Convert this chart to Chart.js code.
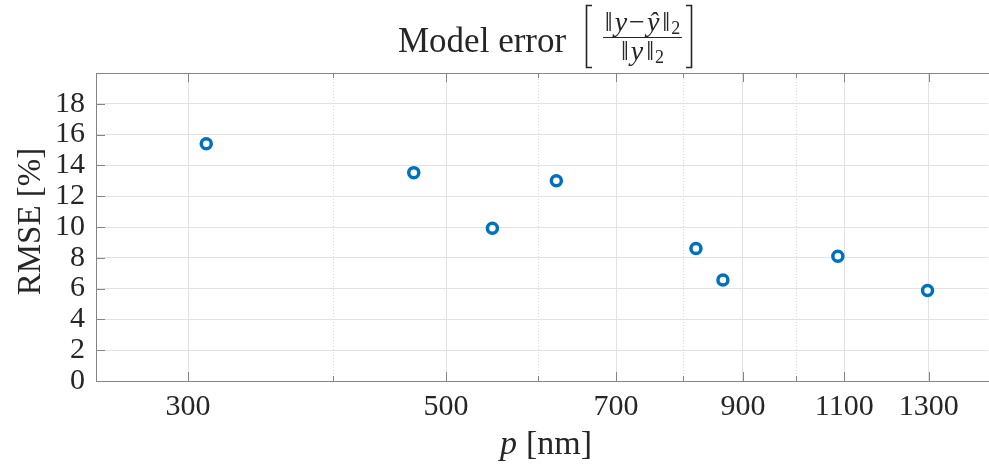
<!DOCTYPE html>
<html><head><meta charset="utf-8">
<script src="https://cdn.jsdelivr.net/npm/chart.js@4.4.1/dist/chart.umd.min.js"></script>
<style>html,body{margin:0;padding:0;background:#fff;overflow:hidden}</style>
</head><body>
<canvas id="c" width="989" height="467"></canvas>
<script>
// ---- data ----
const pValues    = [311, 469, 548, 622, 820, 865, 1086, 1297];
const rmseValues = [15.40, 13.53, 9.92, 13.00, 8.60, 6.56, 8.10, 5.87];
const xMajorTicks = [300, 500, 700, 900, 1100, 1300];
const xMinorTicks = [400, 600, 800, 1000];
const yTicks = [0, 2, 4, 6, 8, 10, 12, 14, 16, 18];
const xRange = [250, 1462];
const yRange = [0, 20];
const titleText = 'Model error';
const yTitle = 'RMSE [%]';
const xTitleVar = 'p';
const xTitleUnit = '[nm]';

const SERIF = '"Liberation Serif", "Times New Roman", serif';
const AXIS = '#858585';
const GRID = '#e2e2e2';
const MINORGRID = '#d8d8d8';
const TEXT = '#262626';
const BLUE = '#0072BD';

function drawSegments(ctx, segs, cx, baseline) {
  let total = 0;
  segs.forEach(s => { ctx.font = s.font; s.w = ctx.measureText(s.t).width; total += s.w + (s.gap || 0); });
  let x = cx - total / 2;
  ctx.textAlign = 'left'; ctx.textBaseline = 'alphabetic';
  segs.forEach(s => { ctx.font = s.font; ctx.fillText(s.t, x, baseline + (s.dy || 0)); x += s.w + (s.gap || 0); });
}

const decor = {
  id: 'decor',
  beforeDatasetsDraw(chart) {
    const {ctx, chartArea: a, scales: {x, y}} = chart;
    ctx.save();
    ctx.strokeStyle = AXIS; ctx.lineWidth = 1;
    ctx.beginPath();
    ctx.moveTo(a.left, a.top + 0.5); ctx.lineTo(a.right + 1, a.top + 0.5);
    xMajorTicks.forEach(v => {
      const px = Math.round(x.getPixelForValue(v)) + 0.5;
      ctx.moveTo(px, a.bottom); ctx.lineTo(px, a.bottom - 9);
      ctx.moveTo(px, a.top); ctx.lineTo(px, a.top + 9);
    });
    xMinorTicks.forEach(v => {
      const px = Math.round(x.getPixelForValue(v)) + 0.5;
      ctx.moveTo(px, a.bottom); ctx.lineTo(px, a.bottom - 5);
      ctx.moveTo(px, a.top); ctx.lineTo(px, a.top + 5);
    });
    yTicks.forEach(v => {
      const py = Math.round(y.getPixelForValue(v)) + 0.5;
      ctx.moveTo(a.left, py); ctx.lineTo(a.left + 9, py);
    });
    ctx.stroke();
    ctx.restore();
  },
  afterDraw(chart) {
    const {ctx} = chart;
    ctx.save();
    ctx.fillStyle = TEXT; ctx.strokeStyle = TEXT;
    // title
    ctx.font = '35px ' + SERIF; ctx.textAlign = 'left'; ctx.textBaseline = 'alphabetic';
    ctx.fillText(titleText, 398, 52);
    // brackets
    ctx.lineWidth = 1.6;
    ctx.beginPath();
    ctx.moveTo(592, 5.5); ctx.lineTo(586.5, 5.5); ctx.lineTo(586.5, 67.5); ctx.lineTo(592, 67.5);
    ctx.moveTo(686, 5.5); ctx.lineTo(691.5, 5.5); ctx.lineTo(691.5, 67.5); ctx.lineTo(686, 67.5);
    ctx.stroke();
    // fraction bar
    ctx.lineWidth = 1;
    ctx.beginPath(); ctx.moveTo(603, 37.5); ctx.lineTo(682, 37.5); ctx.stroke();
    const n = '28px ' + SERIF, ni = 'italic 28px ' + SERIF, sub = '18px ' + SERIF;
    drawSegments(ctx, [
      {t: '\u2016', font: n, gap: 2}, {t: 'y', font: ni, gap: 2}, {t: '\u2212', font: n, gap: 2},
      {t: '\u0177', font: ni, gap: 3}, {t: '\u2016', font: n, gap: 1}, {t: '2', font: sub, dy: 3}
    ], 642.5, 31);
    drawSegments(ctx, [
      {t: '\u2016', font: n, gap: 2}, {t: 'y', font: ni, gap: 3}, {t: '\u2016', font: n, gap: 1}, {t: '2', font: sub, dy: 3}
    ], 642.5, 60);
    // y title
    ctx.save();
    ctx.translate(31, 221.5); ctx.rotate(-Math.PI / 2);
    ctx.font = '33px ' + SERIF; ctx.textAlign = 'center'; ctx.textBaseline = 'middle';
    ctx.fillText(yTitle, 0, 0);
    ctx.restore();
    // x title
    ctx.textAlign = 'left'; ctx.textBaseline = 'alphabetic';
    ctx.font = 'italic 34px ' + SERIF;
    ctx.fillText(xTitleVar, 500, 454);
    const pw = ctx.measureText(xTitleVar).width;
    ctx.font = '34px ' + SERIF;
    ctx.fillText(xTitleUnit, 500 + pw + 9, 454);
    ctx.restore();
  }
};

new Chart(document.getElementById('c'), {
  type: 'scatter',
  data: {
    datasets: [{
      data: pValues.map((v, i) => ({x: v, y: rmseValues[i]})),
      pointRadius: 5, pointHoverRadius: 5,
      pointBorderWidth: 3.5, pointHoverBorderWidth: 3.5,
      borderColor: BLUE, backgroundColor: '#ffffff',
      pointBackgroundColor: '#ffffff', pointBorderColor: BLUE
    }]
  },
  options: {
    responsive: false, animation: false, devicePixelRatio: 1,
    layout: {autoPadding: false, padding: {top: 73, left: 0, right: 1, bottom: 0}},
    plugins: {legend: {display: false}, tooltip: {enabled: false}, title: {display: false}},
    scales: {
      x: {
        type: 'logarithmic', min: xRange[0], max: xRange[1],
        afterBuildTicks: s => {
          s.ticks = xMajorTicks.concat(xMinorTicks).sort((a, b) => a - b).map(v => ({value: v}));
        },
        afterFit: s => { s.height = 86; s.paddingLeft = 0; s.paddingRight = 0; },
        ticks: {
          autoSkip: false, maxRotation: 0, minRotation: 0, padding: 8, color: TEXT,
          font: {family: SERIF, size: 30},
          callback: v => xMajorTicks.includes(v) ? String(v) : ''
        },
        grid: {
          drawTicks: false,
          color: c => (c.tick && xMinorTicks.includes(c.tick.value)) ? MINORGRID : GRID,
          lineWidth: 1
        },
        border: {
          display: true, color: AXIS, width: 1,
          dash: c => (c.tick && xMinorTicks.includes(c.tick.value)) ? [1, 2] : []
        }
      },
      y: {
        type: 'linear', min: yRange[0], max: yRange[1],
        afterBuildTicks: s => { s.ticks = yTicks.map(v => ({value: v})); },
        afterFit: s => { s.width = 96; s.paddingTop = 0; s.paddingBottom = 0; },
        ticks: {
          autoSkip: false, padding: 11, color: TEXT,
          font: {family: SERIF, size: 30}
        },
        grid: {drawTicks: false, color: GRID, lineWidth: 1},
        border: {display: true, color: AXIS, width: 1}
      }
    }
  },
  plugins: [decor]
});
</script>
</body></html>
